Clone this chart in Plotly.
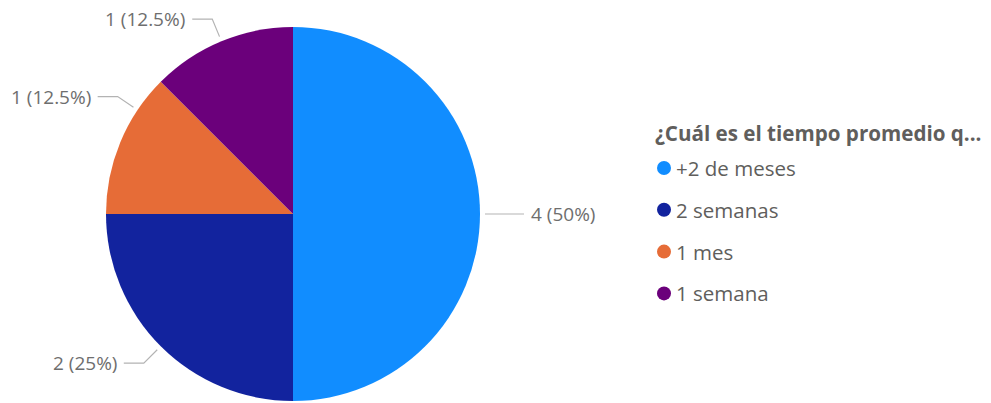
import math
import plotly.graph_objects as go

# Data
categories = ["+2 de meses", "2 semanas", "1 mes", "1 semana"]
counts = [4, 2, 1, 1]
colors = ["#118DFF", "#12239E", "#E66C37", "#6B007B"]
legend_title = "¿Cuál es el tiempo promedio q..."

W, H = 991, 403
CX, CY, R = 293, 214, 187  # pie centre and radius in pixels


def px(x):
    return x / W


def py(y):
    return 1 - y / H


fig = go.Figure()

fig.add_trace(go.Pie(
    labels=categories,
    values=counts,
    sort=False,
    direction="clockwise",
    rotation=0,
    marker=dict(colors=colors, line=dict(width=0)),
    textinfo="none",
    hoverinfo="label+value+percent",
    showlegend=False,
    domain=dict(x=[px(CX - R), px(CX + R)], y=[py(CY + R), py(CY - R)]),
))

# Outside data labels with elbow leader lines
label_shift = [0, 0, 11.3, 0]  # degrees, keeps the small labels apart
total = sum(counts)
shapes = []
annotations = []
start = 0.0
line_col = "#B3B3B3"
for i, v in enumerate(counts):
    sweep = 360.0 * v / total
    theta = math.radians(start + sweep / 2 + label_shift[i])
    start += sweep
    sx, sy = math.sin(theta), -math.cos(theta)
    ax_, ay_ = CX + (R + 5) * sx, CY + (R + 5) * sy
    kx, ky = CX + (R + 24) * sx, CY + (R + 24) * sy
    side = 1 if sx > 0.01 else -1
    ex, ey = kx + side * 20, ky
    shapes.append(dict(
        type="path", xref="paper", yref="paper",
        path=f"M {px(ax_)} {py(ay_)} L {px(kx)} {py(ky)} L {px(ex)} {py(ey)}",
        line=dict(color=line_col, width=1.2),
    ))
    pct = 100.0 * v / total
    pct_txt = f"{pct:.1f}".rstrip("0").rstrip(".")
    annotations.append(dict(
        x=px(ex + side * 5), y=py(ey), xref="paper", yref="paper",
        text=f"{v} ({pct_txt}%)", showarrow=False,
        xanchor="left" if side > 0 else "right", yanchor="middle",
        font=dict(family="Open Sans", size=19, color="#6E6E6E"),
    ))

# Legend
annotations.append(dict(
    x=px(653), y=py(133), xref="paper", yref="paper",
    text=f"<b>{legend_title}</b>", showarrow=False,
    xanchor="left", yanchor="middle",
    font=dict(family="Open Sans", size=20.6, color="#605E5C"),
))
for i, (name, col) in enumerate(zip(categories, colors)):
    yc = 168 + i * 41.8
    shapes.append(dict(
        type="circle", xref="paper", yref="paper",
        x0=px(657), x1=px(671), y0=py(yc + 7), y1=py(yc - 7),
        fillcolor=col, line=dict(width=0),
    ))
    annotations.append(dict(
        x=px(674), y=py(yc), xref="paper", yref="paper",
        text=name, showarrow=False, xanchor="left", yanchor="middle",
        font=dict(family="Open Sans", size=20.5, color="#605E5C"),
    ))

fig.update_layout(
    width=W, height=H,
    margin=dict(l=0, r=0, t=0, b=0),
    paper_bgcolor="white", plot_bgcolor="white",
    shapes=shapes, annotations=annotations,
)

fig.write_html("out.html")
